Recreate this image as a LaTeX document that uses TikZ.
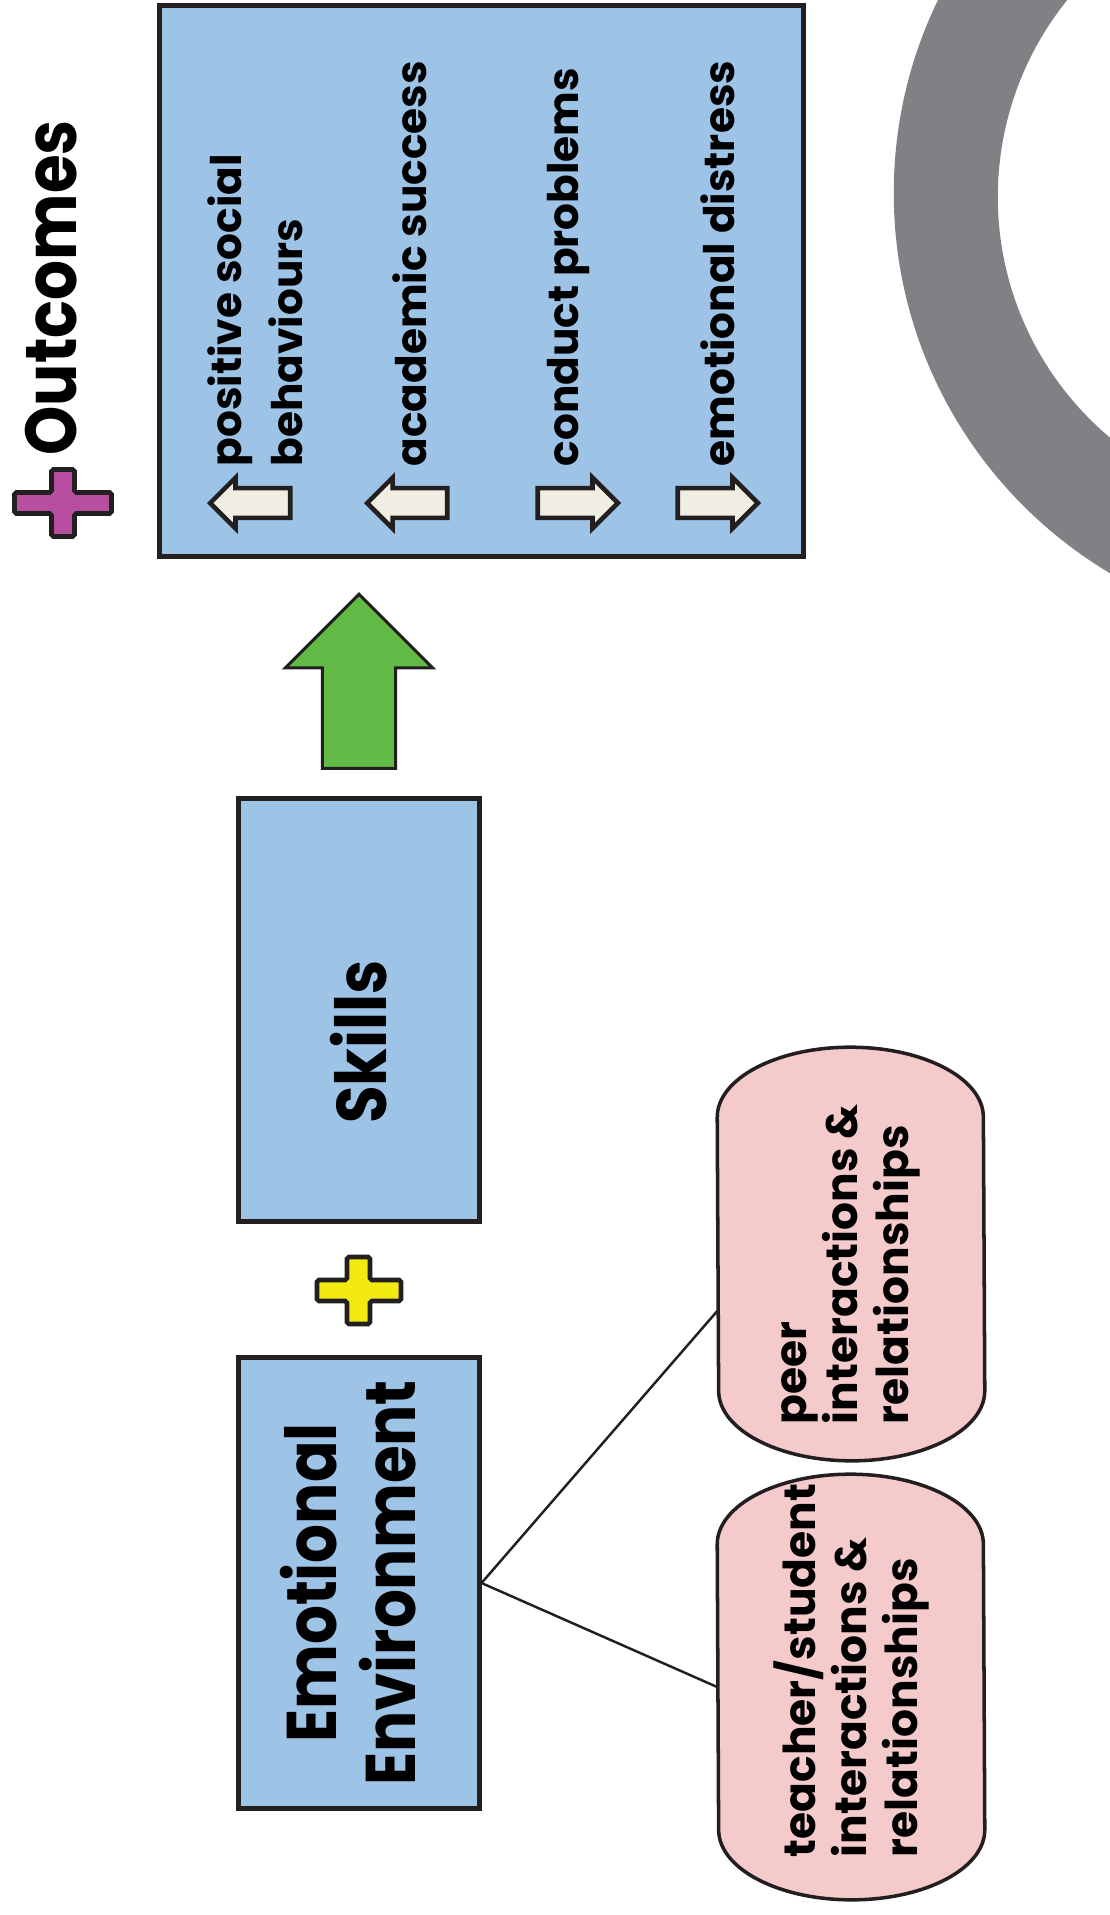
\documentclass[tikz,border=0pt]{standalone}
\usepackage{fontspec}
\setmainfont{Poppins}
\newfontfamily\headfont{Poppins}[FakeStretch=0.87]
\usetikzlibrary{shapes.arrows,backgrounds}

\definecolor{boxblue}{HTML}{9DC3E6}
\definecolor{pillpink}{HTML}{F4CACB}
\definecolor{arrowgreen}{HTML}{62BB46}
\definecolor{plusyellow}{HTML}{F3EA12}
\definecolor{plusmagenta}{HTML}{B84E9F}
\definecolor{ringgray}{HTML}{808184}
\definecolor{arrowcream}{HTML}{F0EDE3}
\definecolor{inkblack}{HTML}{231F20}

\tikzset{
  bluebox/.style={draw=inkblack, fill=boxblue, line width=1.4pt, inner sep=0pt},
  pill/.style={inner sep=0pt, minimum width=2.66cm, font=\bfseries\fontsize{12.5}{14.5}\selectfont},
  pilledge/.style={draw=inkblack, fill=pillpink, line width=1pt},
  itemlabel/.style={rotate=90, anchor=base west, inner sep=0pt, font=\bfseries\fontsize{12}{14}\selectfont},
  trendarrow/.style={single arrow, draw=inkblack, fill=arrowcream, line width=1.3pt,
    inner xsep=0pt, inner ysep=0.125cm, single arrow head extend=0.105cm,
    minimum height=0.8cm, anchor=tip},
  plusedge/.style={draw=inkblack, line width=1.3pt, rounded corners=0.5pt},
}

\begin{document}
\begin{tikzpicture}[x=0.01cm, y=-0.01cm]
  \useasboundingbox (0,0) rectangle (1110,1915);

  % grey ring, cut by the page edge
  \begin{scope}
    \clip (0,0) rectangle (1110,1915);
    \fill[ringgray, even odd rule] (1336,193) circle[radius=4.42cm] (1312,197) circle[radius=3.14cm];
  \end{scope}

  % outcomes
  \draw[plusedge, fill=plusmagenta] (14.5,492.5) -- (51.5,492.5) -- (51.5,469.5) -- (74.5,469.5)
    -- (74.5,492.5) -- (111.5,492.5) -- (111.5,513.5) -- (74.5,513.5) -- (74.5,536.5)
    -- (51.5,536.5) -- (51.5,513.5) -- (14.5,513.5) -- cycle;
  \node[rotate=90, anchor=base west, inner sep=0pt, font=\headfont\bfseries\fontsize{20.5}{24}\selectfont] (title) at (77,456) {Outcomes};
  \node[bluebox, minimum width=6.43cm, minimum height=5.5cm] (outcomes) at (481.5,281) {};

  \node[itemlabel] (social) at (241,467) {positive social};
  \node[itemlabel] (behaviours) at (302,467) {behaviours};
  \node[itemlabel] (academic) at (426,467) {academic success};
  \node[itemlabel] (conduct) at (578,467) {conduct problems};
  \node[itemlabel] (distress) at (734,467) {emotional distress};

  \node[trendarrow, rotate=180] (upsocial) at (207,503) {};
  \node[trendarrow, rotate=180] (upacademic) at (364,503) {};
  \node[trendarrow] (downconduct) at (621,503) {};
  \node[trendarrow] (downdistress) at (761,503) {};

  % skills lead to outcomes
  \node[single arrow, draw=inkblack, fill=arrowgreen, line width=0.9pt, inner xsep=0pt,
    inner ysep=0.35cm, single arrow head extend=0.37cm, minimum height=1.74cm,
    rotate=90, anchor=tip] (lift) at (359,592) {};
  \node[bluebox, minimum width=2.4cm, minimum height=4.22cm, font=\headfont\bfseries\fontsize{20}{22}\selectfont]
    (skills) at (359,1010) {\rotatebox{90}{Skills\hspace*{0.64cm}}};

  \draw[plusedge, fill=plusyellow] (317,1280) -- (347,1280) -- (347,1257) -- (370,1257)
    -- (370,1280) -- (401,1280) -- (401,1301) -- (370,1301) -- (370,1324)
    -- (347,1324) -- (347,1301) -- (317,1301) -- cycle;

  \node[bluebox, minimum width=2.4cm, minimum height=4.5cm, font=\headfont\bfseries\fontsize{20}{21.6}\selectfont]
    (emotional) at (359,1583) {\rotatebox{90}{\begin{tabular}{@{}c@{}}Emotional\\Environment\end{tabular}}};

  % relationships
  \node[pill, minimum height=4.12cm] (peer) at (851,1254)
    {\rotatebox{90}{\parbox{3.4cm}{\raggedright peer\\interactions \&\\relationships}}};
  \node[pill, minimum height=4.24cm] (teacher) at (851,1687)
    {\rotatebox{90}{\parbox{3.4cm}{\raggedright teacher/student\\interactions \&\\relationships}}};
  \begin{scope}[on background layer]
    \foreach \p in {peer,teacher}
      \draw[pilledge] ([yshift=-0.7cm]\p.north west) arc[start angle=180, end angle=0, x radius=1.33cm, y radius=0.7cm]
        -- ([yshift=0.7cm]\p.south east) arc[start angle=0, end angle=-180, x radius=1.33cm, y radius=0.7cm] -- cycle;
  \end{scope}

  \draw[inkblack, line width=0.7pt] (emotional.east) -- ([yshift=-0.57cm]peer.west);
  \draw[inkblack, line width=0.7pt] (emotional.east) -- (teacher.west);
\end{tikzpicture}
\end{document}
